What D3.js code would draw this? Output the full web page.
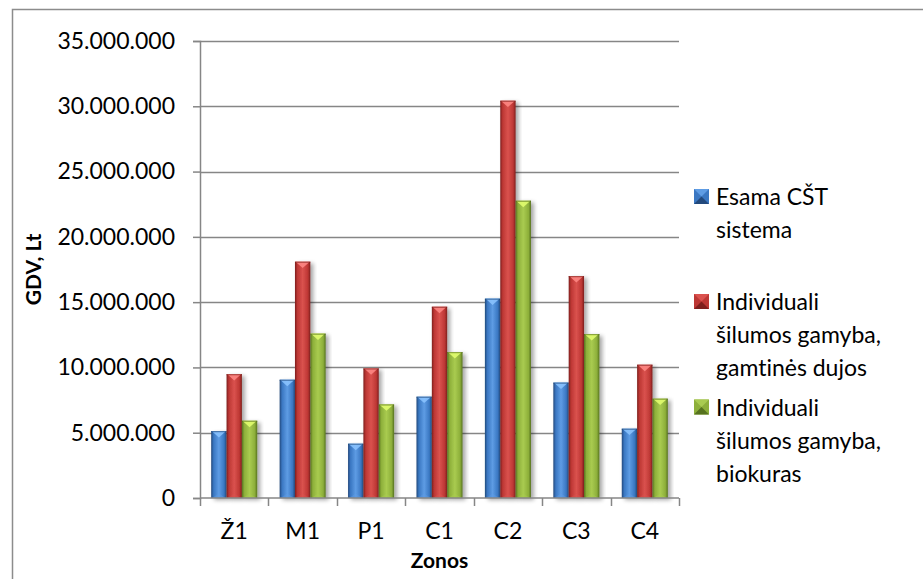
<!DOCTYPE html>
<html>
<head>
<meta charset="utf-8">
<script src="https://cdn.jsdelivr.net/npm/d3@7"></script>
<style>
  html, body { margin: 0; padding: 0; background: #fff; }
  svg { display: block; }
  text { font-family: Lato, "Open Sans", sans-serif; fill: #000; font-variant-ligatures: none; }
</style>
</head>
<body>
<svg id="chart" width="923" height="579"></svg>
<script>
// Zones and GDV values (Lt) for the three heating options
const zones = ["Ž1", "M1", "P1", "C1", "C2", "C3", "C4"];
const esamaCST = [5130000, 9060000, 4160000, 7760000, 15270000, 8840000, 5310000];
const dujos    = [9490000, 18100000, 9930000, 14650000, 30430000, 17000000, 10210000];
const biokuras = [5920000, 12590000, 7170000, 11180000, 22770000, 12560000, 7610000];
const yTicks = [0, 5000000, 10000000, 15000000, 20000000, 25000000, 30000000, 35000000];
const seriesNames = [
  ["Esama CŠT", "sistema"],
  ["Individuali", "šilumos gamyba,", "gamtinės dujos"],
  ["Individuali", "šilumos gamyba,", "biokuras"]
];

const series = [
  { key: "esama", values: esamaCST, dark: "#22497c", mid: "#3a77c2", light: "#5e9ce4", tip: "#8cc4ff" },
  { key: "dujos", values: dujos,    dark: "#7e1f1d", mid: "#bd3734", light: "#da524e", tip: "#ff8a86" },
  { key: "bio",   values: biokuras, dark: "#56721f", mid: "#8daf3a", light: "#a9cb50", tip: "#e4ff70" }
];

const svg = d3.select("#chart");
const margin = { left: 200, top: 41, right: 679, bottom: 498 };

const x = d3.scaleBand().domain(zones)
  .range([margin.left, margin.right])
  .paddingInner(0.327).paddingOuter(0.1635);
const xs = d3.scaleBand().domain(series.map(s => s.key))
  .range([0, x.bandwidth()]);
const y = d3.scaleLinear().domain([0, 35000000]).range([margin.bottom, margin.top]);

const fmt = v => d3.format(",")(v).replace(/,/g, ".");

// Gradients and shadow
const defs = svg.append("defs");
series.forEach(s => {
  const g = defs.append("linearGradient").attr("id", "grad-" + s.key)
    .attr("x1", "0").attr("x2", "1").attr("y1", "0").attr("y2", "0");
  g.append("stop").attr("offset", "0%").attr("stop-color", s.dark);
  g.append("stop").attr("offset", "16%").attr("stop-color", s.mid);
  g.append("stop").attr("offset", "50%").attr("stop-color", s.light);
  g.append("stop").attr("offset", "84%").attr("stop-color", s.mid);
  g.append("stop").attr("offset", "100%").attr("stop-color", s.dark);
});
const f = defs.append("filter").attr("id", "shadow")
  .attr("x", "-30%").attr("y", "-5%").attr("width", "170%").attr("height", "115%");
f.append("feGaussianBlur").attr("in", "SourceAlpha").attr("stdDeviation", 2.2).attr("result", "b");
f.append("feOffset").attr("dx", 2.5).attr("dy", 2).attr("result", "o");
f.append("feComponentTransfer").append("feFuncA").attr("type", "linear").attr("slope", 0.35);
const fm = f.append("feMerge");
fm.append("feMergeNode");
fm.append("feMergeNode").attr("in", "SourceGraphic");

// Chart frame
svg.append("rect").attr("x", 12.5).attr("y", 9.5).attr("width", 1000).attr("height", 700)
  .attr("fill", "none").attr("stroke", "#8c8c8c").attr("stroke-width", 1.5);

// Horizontal gridlines
svg.append("g").selectAll("line").data(yTicks.filter(d => d > 0)).join("line")
  .attr("x1", margin.left).attr("x2", margin.right)
  .attr("y1", d => Math.round(y(d)) + 0.5).attr("y2", d => Math.round(y(d)) + 0.5)
  .attr("stroke", "#868686").attr("stroke-width", 1.5);

// Bars
const groups = svg.append("g").selectAll("g").data(zones).join("g")
  .attr("transform", d => `translate(${x(d)},0)`);

series.forEach(s => {
  const bw = xs.bandwidth();
  groups.append("g").attr("filter", "url(#shadow)").each(function(d, i) {
    const g = d3.select(this);
    const x0 = xs(s.key), top = y(s.values[i]), bot = y(0);
    g.append("rect").attr("x", x0).attr("y", top).attr("width", bw).attr("height", bot - top)
      .attr("fill", `url(#grad-${s.key})`);
    // bevelled top facet
    g.append("path")
      .attr("d", `M${x0 + 0.5},${top} L${x0 + bw - 0.5},${top} L${x0 + bw / 2},${top + bw * 0.42} Z`)
      .attr("fill", s.tip).attr("opacity", 0.85);
    g.append("rect").attr("x", x0).attr("y", top).attr("width", bw).attr("height", 1.2)
      .attr("fill", s.dark).attr("opacity", 0.6);
    // bevelled bottom facet
    g.append("path")
      .attr("d", `M${x0 + 1},${bot} L${x0 + bw - 1},${bot} L${x0 + bw / 2},${bot - bw * 0.3} Z`)
      .attr("fill", s.light).attr("opacity", 0.45);
  });
});

// Y axis
const yAxis = d3.axisLeft(y).tickValues(yTicks).tickFormat(fmt).tickSize(7).tickPadding(18);
const ya = svg.append("g").attr("transform", `translate(${margin.left},0)`).call(yAxis);
ya.select(".domain").attr("stroke", "#868686").attr("stroke-width", 1.5);
ya.selectAll(".tick line").attr("stroke", "#868686").attr("stroke-width", 1.5);
ya.selectAll(".tick text").attr("font-family", "Lato").attr("font-size", 23).attr("fill", "#000");

// X axis with ticks between categories
const xa = svg.append("g").attr("transform", `translate(0,${margin.bottom})`);
xa.append("line").attr("x1", margin.left).attr("x2", margin.right)
  .attr("stroke", "#868686").attr("stroke-width", 1.5);
const boundaries = d3.range(zones.length + 1).map(i => margin.left + i * x.step());
xa.selectAll("line.sep").data(boundaries).join("line").attr("class", "sep")
  .attr("x1", d => Math.round(d) + 0.5).attr("x2", d => Math.round(d) + 0.5)
  .attr("y1", 0).attr("y2", 8).attr("stroke", "#868686").attr("stroke-width", 1.5);
xa.selectAll("text").data(zones).join("text")
  .attr("x", d => x(d) + x.bandwidth() / 2).attr("y", 41)
  .attr("text-anchor", "middle").attr("font-size", 23).text(d => d);

// Axis titles
svg.append("text").attr("x", (margin.left + margin.right) / 2).attr("y", 568)
  .attr("text-anchor", "middle").attr("font-size", 21).attr("font-weight", "bold").text("Zonos");
svg.append("text").attr("transform", `translate(41,${(margin.top + margin.bottom) / 2}) rotate(-90)`)
  .attr("text-anchor", "middle").attr("font-size", 21).attr("font-weight", "bold").text("GDV, Lt");

// Legend
const legendY = [205, 310, 415.5];
const legend = svg.append("g");
series.forEach((s, i) => {
  const g = legend.append("g");
  const sy = legendY[i] - 16;
  g.append("rect").attr("x", 694).attr("y", sy).attr("width", 15).attr("height", 15)
    .attr("fill", s.mid);
  g.append("path").attr("d", `M694,${sy} L709,${sy} L701.5,${sy + 7.5} Z`).attr("fill", s.light);
  g.append("path").attr("d", `M694,${sy + 15} L709,${sy + 15} L701.5,${sy + 7.5} Z`).attr("fill", s.dark);
  const t = g.append("text").attr("x", 716).attr("y", legendY[i]).attr("font-size", 23);
  seriesNames[i].forEach((line, j) => {
    t.append("tspan").attr("x", 716).attr("dy", j === 0 ? 0 : 33).text(line);
  });
});
</script>
</body>
</html>
